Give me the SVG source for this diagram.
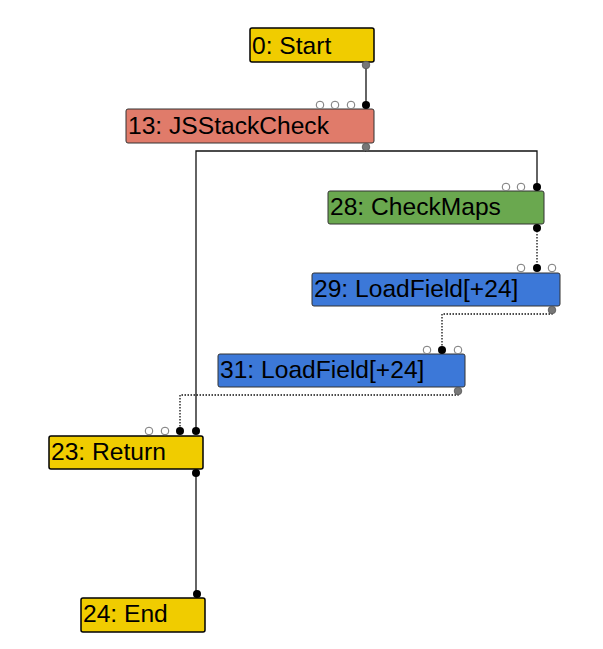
<svg xmlns="http://www.w3.org/2000/svg" width="603" height="649" viewBox="0 0 603 649">
<style>
.box{stroke:#333;stroke-width:1}
.ctl{stroke:#000;stroke-width:1.5}
.lbl{font-family:"Liberation Sans",Arial,sans-serif;font-size:24.6px;fill:#000}
.e{fill:none;stroke:#111;stroke-width:1.3}
.d{fill:none;stroke:#111;stroke-width:1.3;stroke-dasharray:1.5 1.5}
.in{fill:#fff;stroke:#777;stroke-width:1}
.on{fill:#000}
.out{fill:#777;stroke:#555;stroke-width:0.8}
</style>
<rect width="603" height="649" fill="#fff"/>
<g id="connectors">
<path class="e" d="M366,65 V105"/>
<path class="e" d="M366,147 V151 H537 V187"/>
<path class="e" d="M366,151 H196 V431"/>
<path class="d" d="M537,228 V268"/>
<path class="d" d="M552,310 V314 H442 V350"/>
<path class="d" d="M458,391 V395 H180 V431"/>
<path class="e" d="M196,473 V594"/>
</g>
<g id="n0">
<rect class="box ctl" x="250" y="28" width="124" height="34" rx="2" fill="#f0cc00"/>
<text class="lbl" x="252" y="54">0: Start</text>
<circle class="out" cx="366" cy="65" r="3.8"/>
</g>
<g id="n13">
<rect class="box" x="126" y="109" width="248" height="34" rx="2" fill="#e07b6a"/>
<text class="lbl" x="128" y="134">13: JSStackCheck</text>
<circle class="in" cx="320" cy="105" r="3.8"/>
<circle class="in" cx="335" cy="105" r="3.8"/>
<circle class="in" cx="351" cy="105" r="3.8"/>
<circle class="on" cx="366" cy="105" r="4"/>
<circle class="out" cx="366" cy="147" r="3.8"/>
</g>
<g id="n28">
<rect class="box" x="328" y="191" width="216" height="33" rx="2" fill="#6aa84f"/>
<text class="lbl" x="330" y="215">28: CheckMaps</text>
<circle class="in" cx="506" cy="187" r="3.8"/>
<circle class="in" cx="521" cy="187" r="3.8"/>
<circle class="on" cx="537" cy="187" r="4"/>
<circle class="on" cx="537" cy="228" r="4"/>
</g>
<g id="n29">
<rect class="box" x="312" y="273" width="248" height="33" rx="2" fill="#3c78d8"/>
<text class="lbl" x="314" y="297">29: LoadField[+24]</text>
<circle class="in" cx="521" cy="268" r="3.8"/>
<circle class="on" cx="537" cy="268" r="4"/>
<circle class="in" cx="552" cy="268" r="3.8"/>
<circle class="out" cx="552" cy="310" r="3.8"/>
</g>
<g id="n31">
<rect class="box" x="218" y="354" width="247" height="33" rx="2" fill="#3c78d8"/>
<text class="lbl" x="220" y="378">31: LoadField[+24]</text>
<circle class="in" cx="427" cy="350" r="3.8"/>
<circle class="on" cx="442" cy="350" r="4"/>
<circle class="in" cx="458" cy="350" r="3.8"/>
<circle class="out" cx="458" cy="391" r="3.8"/>
</g>
<g id="n23">
<rect class="box ctl" x="49" y="436" width="154" height="33" rx="2" fill="#f0cc00"/>
<text class="lbl" x="51" y="460">23: Return</text>
<circle class="in" cx="149" cy="431" r="3.8"/>
<circle class="in" cx="165" cy="431" r="3.8"/>
<circle class="on" cx="180" cy="431" r="4"/>
<circle class="on" cx="196" cy="431" r="4"/>
<circle class="on" cx="196" cy="473" r="4"/>
</g>
<g id="n24">
<rect class="box ctl" x="81" y="598" width="124" height="34" rx="2" fill="#f0cc00"/>
<text class="lbl" x="83" y="622">24: End</text>
<circle class="on" cx="197" cy="594" r="4"/>
</g>
</svg>
